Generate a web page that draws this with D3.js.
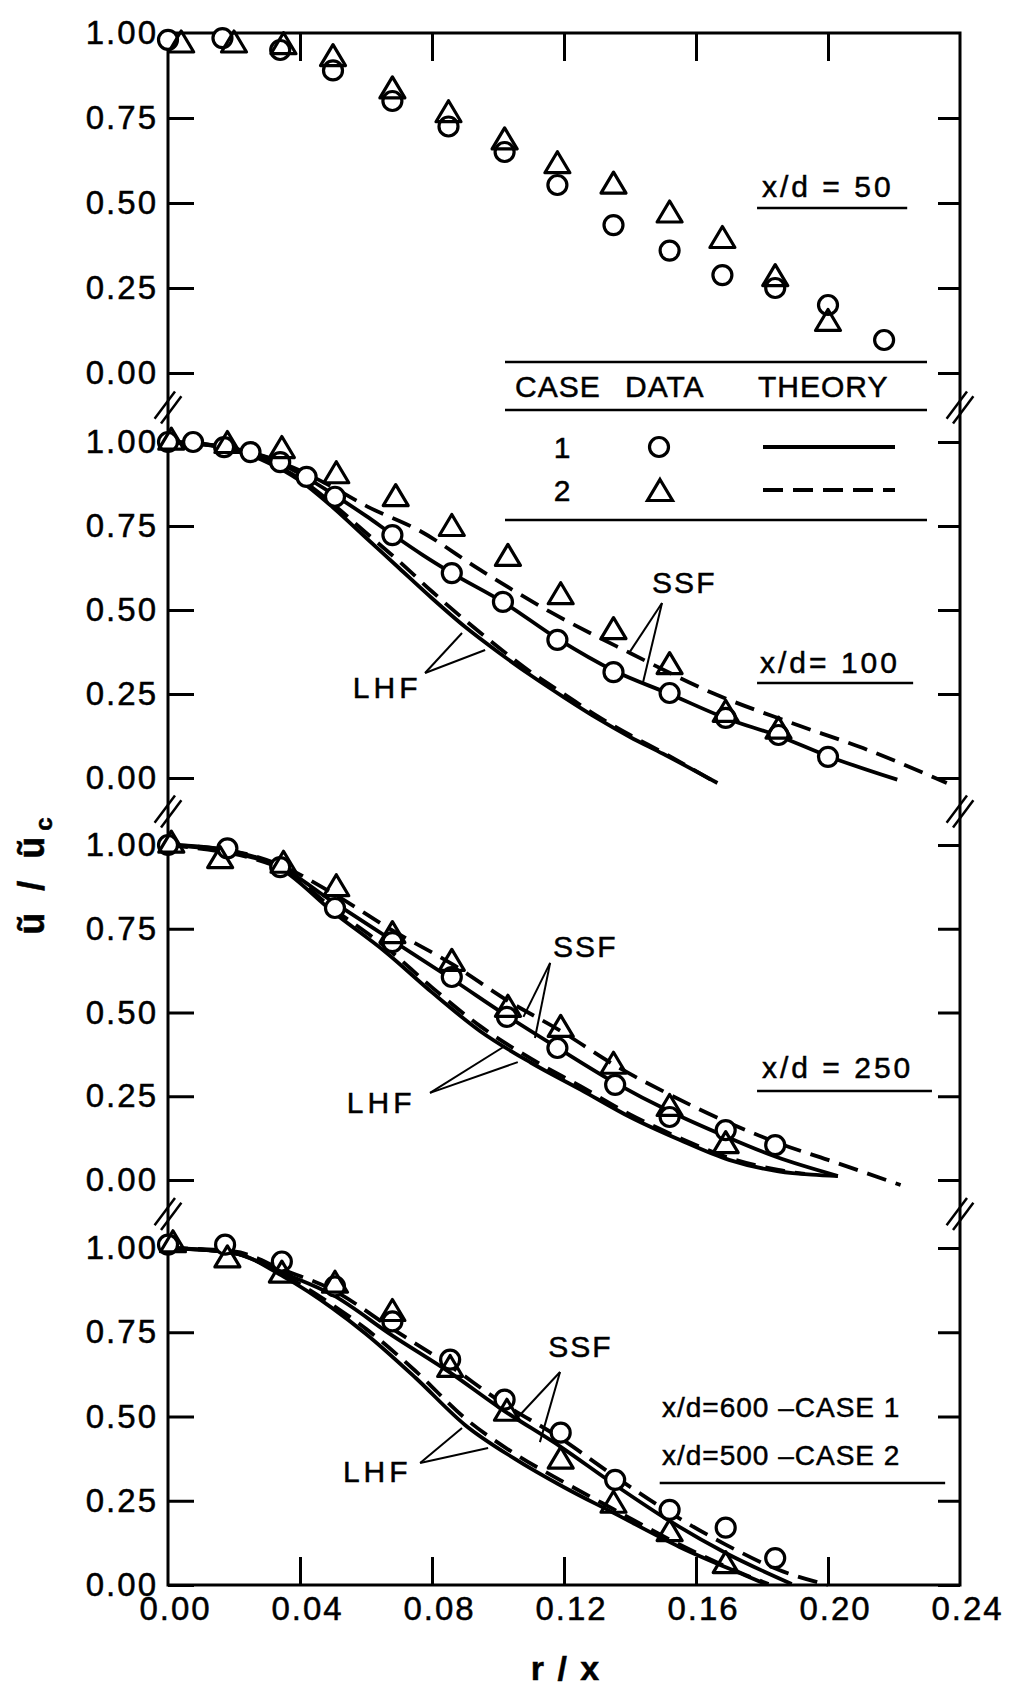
<!DOCTYPE html>
<html><head><meta charset="utf-8">
<script src="https://cdn.jsdelivr.net/npm/d3@7"></script>
<style>
html,body{margin:0;padding:0;background:#fff;}
svg{display:block;}
text{font-family:"Liberation Sans",Arial,sans-serif;fill:#000;stroke:#000;stroke-width:0.5px;}
</style></head><body>
<svg id="chart" width="1020" height="1691"></svg>
<script>
// ---------------- DATA ----------------
const xTicks = [0, 0.04, 0.08, 0.12, 0.16, 0.20, 0.24];
const yTicks = [0, 0.25, 0.50, 0.75, 1.00];
const panelNames = ["x/d = 50", "x/d= 100", "x/d = 250", "x/d=600 –CASE 1|x/d=500 –CASE 2"];
const legendHeader = ["CASE", "DATA", "THEORY"];
const legendCases = ["1", "2"];

// x/d = 50
const d50Case1 = [[0.000,0.98],[0.0165,0.985],[0.034,0.95],[0.050,0.89],[0.068,0.80],[0.085,0.725],[0.102,0.65],[0.118,0.553],[0.135,0.435],[0.152,0.36],[0.168,0.288],[0.184,0.25],[0.200,0.20],[0.217,0.097]];
const d50Case2 = [[0.004,0.975],[0.020,0.975],[0.035,0.97],[0.050,0.935],[0.068,0.84],[0.085,0.77],[0.102,0.69],[0.118,0.62],[0.135,0.56],[0.152,0.475],[0.168,0.40],[0.184,0.288],[0.200,0.156]];

// x/d = 100
const d100Case1 = [[0,1.0],[0.0076,1.0],[0.017,0.985],[0.025,0.97],[0.034,0.94],[0.042,0.896],[0.0506,0.837],[0.068,0.723],[0.086,0.61],[0.1015,0.524],[0.118,0.411],[0.135,0.315],[0.152,0.253],[0.169,0.179],[0.185,0.128],[0.200,0.063]];
const d100Case2 = [[0.001,1.01],[0.018,1.0],[0.0345,0.985],[0.051,0.91],[0.069,0.842],[0.086,0.753],[0.103,0.664],[0.119,0.55],[0.135,0.446],[0.152,0.342],[0.169,0.20],[0.185,0.15]];
const t100SSF1 = [[0,1.0],[0.01,0.995],[0.02,0.98],[0.03,0.955],[0.04,0.905],[0.05,0.845],[0.06,0.78],[0.068,0.725],[0.077,0.665],[0.086,0.61],[0.1015,0.524],[0.118,0.415],[0.135,0.32],[0.152,0.25],[0.169,0.178],[0.185,0.125],[0.200,0.065],[0.221,-0.005]];
const t100SSF2 = [[0,1.0],[0.02,0.98],[0.04,0.915],[0.05,0.865],[0.06,0.81],[0.0764,0.735],[0.0945,0.62],[0.1157,0.495],[0.14,0.372],[0.165,0.253],[0.188,0.167],[0.2106,0.089],[0.236,-0.015]];
const t100LHF1 = [[0,1.0],[0.01,0.995],[0.02,0.975],[0.03,0.94],[0.04,0.885],[0.05,0.805],[0.06,0.715],[0.07,0.625],[0.08,0.535],[0.09,0.45],[0.10,0.375],[0.11,0.305],[0.12,0.24],[0.13,0.178],[0.14,0.122],[0.15,0.072],[0.1665,-0.015]];
const t100LHF2 = [[0,1.0],[0.02,0.977],[0.04,0.89],[0.05,0.815],[0.06,0.73],[0.07,0.645],[0.08,0.555],[0.09,0.47],[0.10,0.39],[0.11,0.315],[0.12,0.25],[0.13,0.185],[0.14,0.128],[0.15,0.076],[0.165,-0.008]];

// x/d = 250
const d250Case1 = [[0,1.0],[0.018,0.99],[0.034,0.934],[0.0506,0.812],[0.068,0.71],[0.086,0.606],[0.1027,0.487],[0.118,0.394],[0.1355,0.284],[0.152,0.188],[0.169,0.149],[0.184,0.104]];
const d250Case2 = [[0.001,1.01],[0.0158,0.964],[0.035,0.95],[0.051,0.88],[0.068,0.74],[0.086,0.657],[0.103,0.52],[0.119,0.46],[0.135,0.35],[0.152,0.224],[0.169,0.113]];
const t250SSF1 = [[0,1.0],[0.01,0.995],[0.018,0.985],[0.034,0.935],[0.05,0.83],[0.068,0.715],[0.086,0.6],[0.1027,0.49],[0.118,0.395],[0.1355,0.29],[0.152,0.205],[0.169,0.13],[0.184,0.07],[0.203,0.012]];
const t250SSF2 = [[0,1.0],[0.018,0.985],[0.034,0.94],[0.05,0.855],[0.068,0.745],[0.086,0.645],[0.103,0.535],[0.119,0.445],[0.135,0.345],[0.152,0.255],[0.169,0.175],[0.185,0.11],[0.2,0.06],[0.222,-0.015]];
const t250LHF1 = [[0,1.0],[0.018,0.98],[0.034,0.93],[0.05,0.80],[0.066,0.68],[0.08,0.56],[0.0945,0.445],[0.11,0.35],[0.125,0.27],[0.14,0.188],[0.155,0.12],[0.17,0.06],[0.185,0.026],[0.195,0.016],[0.203,0.012]];
const t250LHF2 = [[0,1.0],[0.034,0.932],[0.05,0.81],[0.066,0.695],[0.08,0.575],[0.0945,0.46],[0.11,0.362],[0.125,0.28],[0.14,0.196],[0.155,0.126],[0.17,0.066],[0.185,0.03],[0.193,0.018]];

// x/d = 600 (case 1) / 500 (case 2)
const d600Case1 = [[0,1.01],[0.0173,1.01],[0.0345,0.96],[0.0506,0.886],[0.068,0.782],[0.0855,0.669],[0.102,0.55],[0.119,0.452],[0.1355,0.312],[0.152,0.223],[0.169,0.17],[0.184,0.08]];
const d500Case2 = [[0.0015,1.02],[0.018,0.975],[0.0345,0.93],[0.0506,0.90],[0.068,0.816],[0.0855,0.65],[0.1027,0.52],[0.119,0.378],[0.135,0.247],[0.152,0.163],[0.169,0.068]];
const t600SSF1 = [[0,1.0],[0.01,0.995],[0.02,0.985],[0.035,0.925],[0.05,0.86],[0.068,0.74],[0.0855,0.63],[0.1006,0.525],[0.119,0.41],[0.135,0.30],[0.152,0.19],[0.169,0.095],[0.189,0.003]];
const t500SSF2 = [[0,1.0],[0.02,0.99],[0.035,0.935],[0.05,0.875],[0.068,0.76],[0.0855,0.65],[0.1006,0.545],[0.119,0.435],[0.135,0.325],[0.152,0.215],[0.169,0.12],[0.185,0.045],[0.20,0.0]];
const t600LHF1 = [[0,1.0],[0.02,0.985],[0.035,0.915],[0.05,0.82],[0.06,0.745],[0.075,0.615],[0.09,0.475],[0.105,0.375],[0.12,0.29],[0.135,0.214],[0.155,0.113],[0.175,0.028],[0.181,0.003]];
const t500LHF2 = [[0,1.0],[0.02,0.985],[0.035,0.92],[0.05,0.83],[0.06,0.76],[0.075,0.635],[0.09,0.495],[0.105,0.39],[0.12,0.305],[0.135,0.225],[0.155,0.12],[0.175,0.03],[0.182,0.003]];

// ---------------- LAYOUT ----------------
const svg = d3.select("#chart");
const X0 = 168, X1 = 960;
const panelPix = [[373, 33], [778, 442], [1180, 845], [1585, 1248]];
const x = d3.scaleLinear().domain([0, 0.24]).range([X0, X1]);
const ys = panelPix.map(r => d3.scaleLinear().domain([0, 1]).range(r));
const TOP = panelPix[0][1], BOT = panelPix[3][0];
const AX_W = 3;

const panels = [
  {circles: d50Case1, tris: d50Case2, ssf1: null, ssf2: null, lhf1: null, lhf2: null,
   name: {x: 0.18, y: 0.5176, ul: [0.1785, 0.224, 0.485]}},
  {circles: d100Case1, tris: d100Case2, ssf1: t100SSF1, ssf2: t100SSF2, lhf1: t100LHF1, lhf2: t100LHF2,
   name: {x: 0.1794, y: 0.3125, ul: [0.1785, 0.2258, 0.283]},
   ssf: {x: 0.1467, y: 0.551, from: [0.1497, 0.521], to: [[0.140, 0.376], [0.1439, 0.283]]},
   lhf: {x: 0.056, y: 0.238, from: [0.0779, 0.3125], to: [[0.0891, 0.4315], [0.0961, 0.381]]}},
  {circles: d250Case1, tris: d250Case2, ssf1: t250SSF1, ssf2: t250SSF2, lhf1: t250LHF1, lhf2: t250LHF2,
   name: {x: 0.18, y: 0.3045, ul: [0.1785, 0.2315, 0.266]},
   ssf: {x: 0.1167, y: 0.666, from: [0.1158, 0.648], to: [[0.1077, 0.487], [0.1112, 0.424]]},
   lhf: {x: 0.0542, y: 0.20, from: [0.0794, 0.26], to: [[0.1021, 0.40], [0.106, 0.352]]}},
  {circles: d600Case1, tris: d500Case2, ssf1: t600SSF1, ssf2: t500SSF2, lhf1: t600LHF1, lhf2: t500LHF2,
   name: {x: 0.1497, y: 0.4985, y2: 0.356, ul: [0.149, 0.2355, 0.3027]},
   ssf: {x: 0.1152, y: 0.6766, from: [0.1188, 0.632], to: [[0.1058, 0.4955], [0.1127, 0.424]]},
   lhf: {x: 0.053, y: 0.3056, from: [0.0764, 0.362], to: [[0.0891, 0.466], [0.097, 0.4065]]}}
];

const triPath = (w, h) => `M0,${-h/2}L${w/2},${h/2}L${-w/2},${h/2}Z`;

// frame
svg.append("rect").attr("x", X0).attr("y", TOP).attr("width", X1 - X0).attr("height", BOT - TOP)
  .attr("fill", "none").attr("stroke", "#000").attr("stroke-width", AX_W);

function styleAxis(g) {
  g.select(".domain").remove();
  g.selectAll(".tick line").attr("stroke", "#000").attr("stroke-width", AX_W);
  g.attr("font-family", null).attr("font-size", null);
}

// top axis ticks
svg.append("g").attr("transform", `translate(0,${TOP})`)
  .call(d3.axisTop(x).tickValues(xTicks.slice(1, -1)).tickSizeInner(-28).tickSizeOuter(0).tickFormat(""))
  .call(styleAxis);

// bottom axis
const gB = svg.append("g").attr("transform", `translate(0,${BOT})`)
  .call(d3.axisBottom(x).tickValues(xTicks).tickSizeInner(-28).tickSizeOuter(0).tickPadding(12).tickFormat(d3.format(".2f")))
  .call(styleAxis);
gB.selectAll(".tick").filter(d => d === 0 || d === 0.24).select("line").remove();
gB.selectAll(".tick text").attr("font-size", 33).attr("letter-spacing", 2).attr("dx", 7).attr("fill", "#000");

const line = d3.line().x(d => x(d[0])).curve(d3.curveMonotoneX);

panels.forEach((p, i) => {
  const y = ys[i];
  const g = svg.append("g");
  // left axis
  const gL = g.append("g").attr("transform", `translate(${X0},0)`)
    .call(d3.axisLeft(y).tickValues(yTicks).tickSizeInner(-26).tickSizeOuter(0).tickPadding(10).tickFormat(d3.format(".2f")))
    .call(styleAxis);
  gL.selectAll(".tick").filter(d => d === 1).select("line").remove();
  gL.selectAll(".tick text").attr("font-size", 33).attr("letter-spacing", 2).attr("fill", "#000");
  // right axis
  g.append("g").attr("transform", `translate(${X1},0)`)
    .call(d3.axisRight(y).tickValues(i === 0 ? yTicks.slice(0, 4) : yTicks).tickSizeInner(-22).tickSizeOuter(0).tickFormat(""))
    .call(styleAxis);

  const ln = line.y(d => y(d[1]));
  [[p.lhf1, null], [p.lhf2, "20,10"], [p.ssf1, null], [p.ssf2, "20,10"]].forEach(([arr, dash]) => {
    if (!arr) return;
    g.append("path").attr("d", ln(arr)).attr("fill", "none").attr("stroke", "#000")
      .attr("stroke-width", 3.8).attr("stroke-dasharray", dash);
  });

  // markers
  g.selectAll(".c").data(p.circles).join("circle")
    .attr("cx", d => x(d[0])).attr("cy", d => y(d[1])).attr("r", 9.5)
    .attr("fill", "#fff").attr("stroke", "#000").attr("stroke-width", 3.2);
  g.selectAll(".t").data(p.tris).join("path")
    .attr("transform", d => `translate(${x(d[0])},${y(d[1])})`).attr("d", triPath(25, 21))
    .attr("fill", "none").attr("stroke", "#000").attr("stroke-width", 3.2).attr("stroke-linejoin", "round");

  // panel name
  const nm = panelNames[i].split("|");
  g.append("text").attr("x", x(p.name.x)).attr("y", y(p.name.y)).attr("font-size", i === 3 ? 28 : 30)
    .attr("letter-spacing", i === 3 ? 1 : 3).text(nm[0]);
  if (nm[1]) g.append("text").attr("x", x(p.name.x)).attr("y", y(p.name.y2)).attr("font-size", 28)
    .attr("letter-spacing", 1).text(nm[1]);
  g.append("line").attr("x1", x(p.name.ul[0])).attr("x2", x(p.name.ul[1]))
    .attr("y1", y(p.name.ul[2])).attr("y2", y(p.name.ul[2])).attr("stroke", "#000").attr("stroke-width", 2.5);

  // SSF / LHF annotations
  [["SSF", p.ssf], ["LHF", p.lhf]].forEach(([lab, a]) => {
    if (!a) return;
    g.append("text").attr("x", x(a.x)).attr("y", y(a.y)).attr("font-size", 30)
      .attr("letter-spacing", lab === "LHF" ? 4 : 2).text(lab);
    a.to.forEach(t => g.append("line").attr("x1", x(a.from[0])).attr("y1", y(a.from[1]))
      .attr("x2", x(t[0])).attr("y2", y(t[1])).attr("stroke", "#000").attr("stroke-width", 2));
  });
});

// axis break marks
for (let i = 0; i < 3; i++) {
  const yc = (panelPix[i][0] + panelPix[i + 1][1]) / 2;
  [X0, X1].forEach(xc => {
    [-1, 1].forEach(k => {
      const cx = xc + k * 4 * 0.8, cy = yc + k * 4 * 0.6;
      svg.append("line").attr("x1", cx - 17 * 0.6).attr("y1", cy + 17 * 0.8)
        .attr("x2", cx + 17 * 0.6).attr("y2", cy - 17 * 0.8)
        .attr("stroke", "#000").attr("stroke-width", 2.5);
    });
  });
}

// legend
const lg = svg.append("g");
[362, 410, 520].forEach(yy => lg.append("line").attr("x1", 505).attr("x2", 927).attr("y1", yy).attr("y2", yy)
  .attr("stroke", "#000").attr("stroke-width", 2.5));
[515, 625, 758].forEach((xx, j) => lg.append("text").attr("x", xx).attr("y", 397).attr("font-size", 30)
  .attr("letter-spacing", 1).text(legendHeader[j]));
legendCases.forEach((c, j) => {
  const yy = j === 0 ? 447 : 490;
  lg.append("text").attr("x", 562).attr("y", yy + 11).attr("text-anchor", "middle").attr("font-size", 30).text(c);
  if (j === 0) lg.append("circle").attr("cx", 659).attr("cy", yy).attr("r", 9.5).attr("fill", "#fff")
    .attr("stroke", "#000").attr("stroke-width", 3.2);
  else lg.append("path").attr("transform", `translate(660,${yy})`).attr("d", triPath(25, 21))
    .attr("fill", "none").attr("stroke", "#000").attr("stroke-width", 3.2);
  lg.append("line").attr("x1", 763).attr("x2", 895).attr("y1", yy).attr("y2", yy).attr("stroke", "#000")
    .attr("stroke-width", 4).attr("stroke-dasharray", j === 0 ? null : "20,10");
});

// axis titles
svg.append("text").attr("transform", "translate(44,873) rotate(-90)").attr("text-anchor", "middle")
  .attr("font-size", 36).attr("font-weight", "bold").attr("letter-spacing", 6)
  .text("ũ / ũ").append("tspan").attr("font-size", 24).attr("dy", 8).text("c");
svg.append("text").attr("x", 566).attr("y", 1680).attr("text-anchor", "middle").attr("font-size", 34)
  .attr("font-weight", "bold").attr("letter-spacing", 2).text("r / x");
</script>
</body></html>
